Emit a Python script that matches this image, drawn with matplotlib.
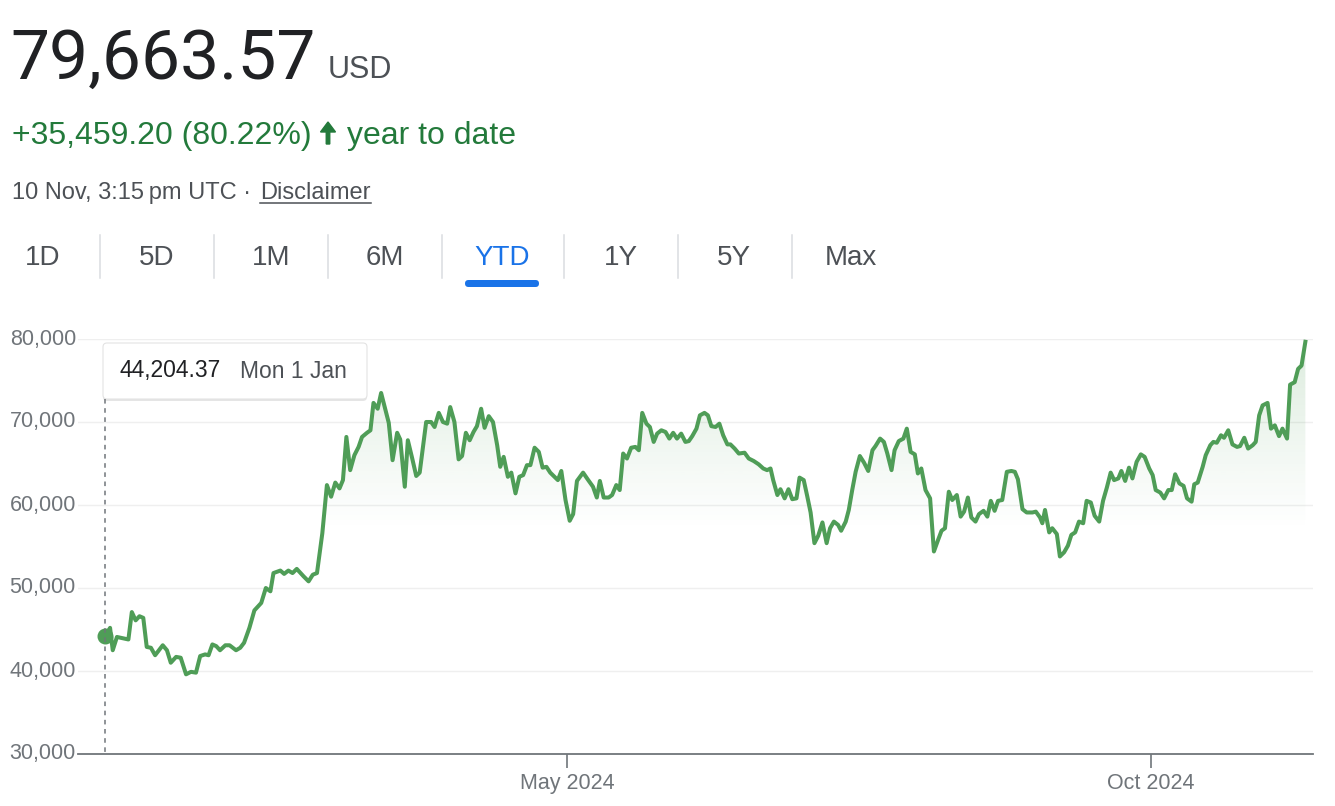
"""Recreate the Google-style YTD price chart for BTC/USD."""
import numpy as np
import pandas as pd
import matplotlib
matplotlib.use('Agg')
import matplotlib.pyplot as plt
import matplotlib.dates as mdates
from matplotlib.patches import FancyBboxPatch, FancyArrow
from matplotlib.lines import Line2D
from matplotlib.transforms import IdentityTransform

# days since 1 Jan 2024
day_offsets = [
    0.0, 1.3, 2.0, 3.1, 6.1, 7.0, 8.0, 9.0, 10.0, 10.9,
    12.0, 13.1, 15.1, 16.2, 17.2, 18.6, 19.8, 21.2, 22.5, 23.8,
    24.9, 26.2, 27.1, 28.1, 29.1, 30.1, 31.5, 32.6, 34.3, 35.4,
    36.4, 37.8, 39.1, 40.9, 42.1, 43.3, 44.1, 45.9, 46.9, 48.0,
    49.1, 50.2, 52.0, 53.3, 54.4, 55.5, 56.9, 58.1, 59.2, 60.3,
    61.4, 62.3, 63.2, 64.2, 65.3, 66.4, 67.3, 68.6, 69.5, 70.3,
    71.4, 72.3, 74.3, 75.3, 76.5, 77.3, 78.5, 79.3, 80.4, 81.5,
    82.4, 84.1, 85.4, 86.3, 87.4, 88.5, 89.6, 90.4, 91.5, 92.6,
    93.5, 94.5, 95.5, 96.5, 97.4, 98.5, 99.4, 100.5, 101.6, 102.7,
    103.5, 104.4, 105.5, 106.4, 107.5, 108.5, 109.5, 110.5, 111.4, 112.5,
    113.6, 114.6, 115.6, 116.6, 118.6, 119.5, 120.6, 121.7, 122.6, 123.6,
    125.2, 126.4, 127.8, 128.8, 129.6, 130.6, 131.9, 132.8, 133.9, 134.8,
    135.7, 136.7, 137.8, 138.9, 139.8, 140.7, 141.8, 142.7, 143.7, 144.6,
    145.7, 146.8, 147.8, 148.8, 149.8, 150.9, 152.0, 152.9, 153.8, 154.9,
    155.8, 157.0, 157.9, 158.8, 159.9, 160.9, 161.9, 163.0, 163.8, 164.9,
    166.0, 167.5, 168.6, 169.9, 171.2, 172.4, 173.4, 174.3, 175.0, 176.1,
    176.9, 178.0, 179.0, 180.0, 181.1, 181.9, 183.0, 183.9, 184.8, 185.8,
    186.8, 187.9, 189.0, 189.9, 190.9, 192.0, 192.8, 194.0, 194.8, 195.7,
    196.6, 197.7, 198.8, 199.9, 201.0, 201.8, 203.0, 204.0, 204.9, 206.0,
    206.8, 207.9, 209.1, 210.0, 211.0, 212.1, 212.9, 213.8, 214.9, 216.1,
    217.1, 218.2, 219.1, 220.0, 221.0, 221.9, 223.1, 224.1, 225.0, 226.0,
    226.9, 228.0, 228.9, 230.1, 231.1, 232.0, 233.0, 233.9, 235.0, 236.2,
    237.4, 238.3, 239.1, 240.3, 241.4, 242.9, 243.8, 244.9, 245.5, 246.2,
    247.3, 248.1, 249.3, 250.1, 251.2, 252.2, 253.1, 254.1, 255.1, 256.2,
    257.1, 258.2, 259.2, 260.4, 261.4, 262.4, 263.4, 264.3, 265.4, 266.2,
    267.2, 268.2, 269.1, 270.2, 271.3, 272.3, 273.5, 274.4, 275.2, 276.4,
    277.4, 278.5, 279.4, 280.3, 281.4, 282.5, 283.4, 284.6, 285.3, 286.2,
    287.5, 288.3, 289.5, 290.3, 291.2, 292.3, 293.1, 294.2, 295.3, 296.5,
    297.3, 298.4, 299.4, 300.6, 301.4, 302.3, 303.2, 304.5, 305.4, 306.4,
    307.5, 308.4, 309.6, 310.4, 311.6, 312.5, 313.4, 314.4,
]

prices = [
    44204, 45200, 42500, 44100, 43800, 47100, 46100, 46600, 46400, 42900,
    42800, 41900, 43100, 42500, 41000, 41700, 41600, 39600, 39900, 39800,
    41800, 42000, 41900, 43200, 43000, 42500, 43100, 43100, 42500, 42800,
    43400, 45200, 47300, 48200, 50000, 49600, 51800, 52100, 51700, 52100,
    51800, 52300, 51400, 50800, 51600, 51800, 56600, 62400, 61000, 62700,
    62000, 63000, 68200, 64200, 66000, 67000, 68200, 68700, 69000, 72300,
    71600, 73500, 69900, 65400, 68700, 67900, 62200, 67800, 65700, 63500,
    63900, 70000, 70000, 69400, 71100, 70000, 69800, 71800, 70000, 65500,
    65900, 68700, 67800, 68800, 69500, 71600, 69300, 70700, 70000, 67200,
    64600, 65800, 63400, 63900, 61400, 63400, 63600, 64800, 64800, 66900,
    66400, 64500, 64600, 63900, 63000, 64100, 60600, 58100, 58900, 62900,
    63900, 63100, 62200, 60900, 62900, 60900, 60900, 61200, 62400, 61800,
    66200, 65600, 66900, 67000, 66600, 71100, 69800, 69400, 67600, 68600,
    69000, 68800, 68000, 68700, 68000, 68600, 67600, 67700, 68300, 69200,
    70800, 71100, 70800, 69500, 69400, 69800, 68400, 67300, 67300, 66800,
    66200, 66300, 65600, 65300, 64900, 64400, 64200, 64400, 63000, 61200,
    61900, 60800, 61900, 60700, 60800, 63300, 63000, 61100, 59100, 55400,
    56300, 57900, 55400, 57200, 58000, 57600, 56900, 58000, 59400, 61800,
    64000, 65900, 65100, 64100, 66600, 67100, 68000, 67600, 66200, 64200,
    66600, 67700, 68000, 69200, 66400, 66100, 63800, 64400, 61800, 60800,
    54400, 55800, 56900, 57200, 61600, 60600, 61200, 58600, 59200, 60900,
    58500, 58000, 58900, 59300, 58600, 60500, 59300, 60500, 60600, 64000,
    64100, 64000, 63100, 59500, 59100, 59100, 59200, 58500, 57800, 59400,
    56700, 57200, 56500, 53800, 54300, 55100, 56400, 56700, 58000, 57800,
    60500, 60300, 58700, 58000, 60500, 62100, 63900, 63000, 63200, 64100,
    62900, 64500, 63200, 65200, 66100, 65800, 64400, 63600, 61800, 61500,
    60800, 61800, 61800, 63700, 62600, 62300, 60800, 60400, 62500, 62700,
    64600, 66000, 67200, 67600, 67500, 68400, 68100, 69000, 67300, 67000,
    67100, 68100, 66800, 67200, 67600, 70800, 72000, 72300, 69200, 69600,
    68300, 69200, 68000, 74500, 74800, 76400, 76800, 79664,
]

y_ticks = [30000, 40000, 50000, 60000, 70000, 80000]
x_tick_dates = ['2024-05-01', '2024-10-01']
x_tick_labels = ['May 2024', 'Oct 2024']
tabs = ['1D', '5D', '1M', '6M', 'YTD', '1Y', '5Y', 'Max']
tab_centers = [43, 157, 271, 385, 502, 621, 734, 851]
tab_separators = [100, 214, 328, 442, 564, 678, 792]

W, H = 1335, 806
GREEN_LINE = '#4f9d57'
GREEN_TEXT = '#237a3b'
GRAY = '#70757a'
DARK = '#4d5156'
BLUE = '#1a73e8'
SANS = ['Liberation Sans', 'DejaVu Sans']

plt.rcParams['font.family'] = SANS

fig = plt.figure(figsize=(W / 100, H / 100), dpi=100)
px = IdentityTransform()


def P(x, y):
    """Pixel position measured from the top-left corner."""
    return x, H - y


# ---- header -------------------------------------------------------------
fig.text(*P(10, 79), '79,663.57', transform=px, fontsize=50,
         family=['Roboto', 'DejaVu Sans'], color='#202124', va='baseline')
fig.text(*P(328, 78), 'USD', transform=px, fontsize=22, color=DARK,
         va='baseline')
fig.text(*P(12, 144), '+35,459.20 (80.22%)', transform=px, fontsize=23,
         color=GREEN_TEXT, va='baseline')
fig.add_artist(FancyArrow(*P(328, 144), 0, 22, width=3.5, head_width=15,
                          head_length=10, length_includes_head=True,
                          color=GREEN_TEXT, transform=px))
fig.text(*P(347, 144), 'year to date', transform=px, fontsize=23,
         color=GREEN_TEXT, va='baseline')
fig.text(*P(12, 199), '10 Nov, 3:15\u2009pm UTC \u00b7 ', transform=px,
         fontsize=17, color=DARK, va='baseline')
fig.text(*P(260, 199), 'Disclaimer', transform=px, fontsize=17,
         color=DARK, va='baseline')
fig.add_artist(Line2D([260, 371], [H - 203, H - 203], color=DARK, lw=1.1,
                      transform=px))

# ---- range tabs ---------------------------------------------------------
for label, cx in zip(tabs, tab_centers):
    fig.text(*P(cx, 258), label, transform=px, fontsize=20, ha='center',
             va='center', color=BLUE if label == 'YTD' else DARK)
for sx in tab_separators:
    fig.add_artist(Line2D([sx, sx], [H - 235, H - 278], color='#dadce0',
                          lw=1.1, transform=px))
fig.add_artist(FancyBboxPatch(P(465, 287), 74, 7,
                              boxstyle='round,pad=0,rounding_size=3.5',
                              fc=BLUE, ec='none', transform=px))

# ---- chart --------------------------------------------------------------
left, right, top, bottom = 78, 1313, 339, 754
ax = fig.add_axes([left / W, 1 - bottom / H, (right - left) / W,
                   (bottom - top) / H])

start = pd.Timestamp('2024-01-01')
dates = start + pd.to_timedelta(day_offsets, unit='D')
xs = mdates.date2num(dates)
baseline = prices[0]

x_lo = mdates.date2num(start - pd.Timedelta(days=7.1))
x_hi = mdates.date2num(start + pd.Timedelta(days=316.4))

# soft gradient under the line, fading out towards the opening price
poly = ax.fill_between(xs, prices, baseline, color='none', lw=0)
levels = np.linspace(30000, 80000, 256)
alpha = 0.2 * np.clip((levels - 57000) / (80000 - 57000), 0, 1) ** 1.1
rgba = np.zeros((256, 1, 4))
rgba[..., :3] = matplotlib.colors.to_rgb(GREEN_LINE)
rgba[..., 0, 3] = alpha
im = ax.imshow(rgba, extent=[x_lo, x_hi, 30000, 80000], origin='lower',
               aspect='auto', zorder=1, interpolation='bilinear')
im.set_clip_path(poly.get_paths()[0], transform=ax.transData)

ax.plot(xs, prices, color=GREEN_LINE, lw=2.9, zorder=3, clip_on=False,
        solid_joinstyle='round')
ax.plot(xs[0], prices[0], 'o', color=GREEN_LINE, ms=10.5, zorder=4,
        clip_on=False)

ax.set_xlim(x_lo, x_hi)
ax.set_ylim(30000, 80000)

ax.set_yticks(y_ticks)
ax.set_yticklabels([f'{v:,}' for v in y_ticks])
ax.set_xticks(mdates.date2num(pd.to_datetime(x_tick_dates)))
ax.set_xticklabels(x_tick_labels)
ax.tick_params(axis='y', length=0, pad=1.5, labelsize=15.5, labelcolor=GRAY)
ax.tick_params(axis='x', length=10, width=1.2, color=GRAY, pad=4,
               labelsize=15.5, labelcolor=GRAY)
for lab in ax.get_yticklabels():
    lab.set_verticalalignment('center')

ax.grid(axis='y', color='#efefef', lw=1)
ax.set_axisbelow(True)
for side in ['top', 'right', 'left']:
    ax.spines[side].set_visible(False)
ax.spines['bottom'].set_color(GRAY)
ax.spines['bottom'].set_linewidth(1.3)

# ---- hover tooltip ------------------------------------------------------
x_px = ax.transData.transform((xs[0], 0))[0]
fig.add_artist(Line2D([x_px, x_px], [H - 399, H - bottom], color=GRAY,
                      lw=1.1, ls=(0, (3, 3)), transform=px, zorder=2))
fig.add_artist(FancyBboxPatch(P(103, 401), 264, 56,
                              boxstyle='round,pad=0,rounding_size=4',
                              fc='#000000', ec='none', alpha=0.10,
                              transform=px))
fig.add_artist(FancyBboxPatch(P(103, 399), 264, 56,
                              boxstyle='round,pad=0,rounding_size=4',
                              fc='white', ec='#e3e3e3', lw=0.8,
                              transform=px))
fig.text(*P(119, 371), '44,204.37', transform=px, fontsize=16.5,
         color='#202124', va='center')
fig.text(*P(240, 371), 'Mon 1 Jan', transform=px, fontsize=16.5,
         color=DARK, va='center')

fig.savefig('out.png', dpi=100)
